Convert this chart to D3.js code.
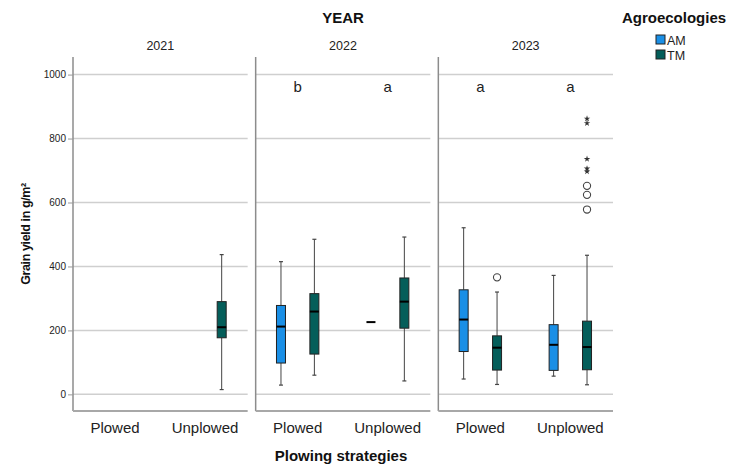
<!DOCTYPE html>
<html>
<head>
<meta charset="utf-8">
<script src="https://cdn.jsdelivr.net/npm/d3@7"></script>
<style>
  html, body { margin: 0; padding: 0; background: #fff; }
  svg { display: block; font-family: "Liberation Sans", Arial, sans-serif; }
</style>
</head>
<body>
<svg id="chart" width="730" height="464"></svg>
<script>
// Panels, categories and groups
const years = ["2021", "2022", "2023"];
const strategies = ["Plowed", "Unplowed"];
const groups = ["AM", "TM"];
const groupColors = ["#1a8fe6", "#045e5a"];
const yTicks = [0, 200, 400, 600, 800, 1000];

// Box summaries: year, strategy, group, lower whisker, Q1, median, Q3, upper whisker
const boxYear     = ["2021", "2022", "2022", "2022", "2022", "2023", "2023", "2023", "2023"];
const boxStrategy = ["Unplowed", "Plowed", "Plowed", "Unplowed", "Unplowed", "Plowed", "Plowed", "Unplowed", "Unplowed"];
const boxGroup    = ["TM", "AM", "TM", "AM", "TM", "AM", "TM", "AM", "TM"];
const boxMin      = [15, 29, 60, 226, 42, 48, 31, 57, 30];
const boxQ1       = [177, 98, 126, 226, 207, 134, 76, 75, 77];
const boxMedian   = [210, 212, 259, 226, 290, 234, 146, 155, 148];
const boxQ3       = [290, 278, 315, 226, 364, 327, 183, 218, 229];
const boxMax      = [437, 415, 485, 226, 492, 521, 320, 372, 435];

// Outliers (circle) and extreme values (star)
const outYear     = ["2023", "2023", "2023", "2023", "2023", "2023", "2023", "2023", "2023"];
const outStrategy = ["Plowed", "Unplowed", "Unplowed", "Unplowed", "Unplowed", "Unplowed", "Unplowed", "Unplowed", "Unplowed"];
const outGroup    = ["TM", "TM", "TM", "TM", "TM", "TM", "TM", "TM", "TM"];
const outValue    = [366, 578, 624, 652, 697, 706, 736, 848, 862];
const outKind     = ["circle", "circle", "circle", "circle", "star", "star", "star", "star", "star"];

// Significance letters
const letterYear     = ["2022", "2022", "2023", "2023"];
const letterStrategy = ["Plowed", "Unplowed", "Plowed", "Unplowed"];
const letterText     = ["b", "a", "a", "a"];
const letterValue    = [960, 960, 960, 960];

const svg = d3.select("#chart");

const panelGap = 8;
const yearScale = d3.scaleBand().domain(years).range([73, 621]);
const panelW = yearScale.bandwidth() - panelGap;
const panelTop = 57, panelBottom = 411;
const y = d3.scaleLinear().domain([-52, 1055]).range([panelBottom, panelTop]);
const xCat = d3.scalePoint().domain(strategies).range([0, 174]).padding(0.467);
const xGrp = d3.scalePoint().domain(groups).range([-16.7, 16.7]);
const color = d3.scaleOrdinal().domain(groups).range(groupColors);
const cx = (yr, st, gr) => yearScale(yr) + xCat(st) + (gr ? xGrp(gr) : 0);

// Panels: gridlines and frames
years.forEach(yr => {
  const x0 = yearScale(yr);
  const g = svg.append("g");
  g.selectAll("line.grid").data(yTicks).join("line")
    .attr("x1", x0).attr("x2", x0 + panelW)
    .attr("y1", d => y(d)).attr("y2", d => y(d))
    .attr("stroke", "#cfcfcf").attr("stroke-width", 1.5);
  g.append("line").attr("x1", x0).attr("x2", x0).attr("y1", panelTop).attr("y2", panelBottom)
    .attr("stroke", "#8c8c8c").attr("stroke-width", 1.5);
  g.append("line").attr("x1", x0).attr("x2", x0 + panelW).attr("y1", panelBottom).attr("y2", panelBottom)
    .attr("stroke", "#a8a8a8").attr("stroke-width", 2);
  g.append("text").attr("x", x0 + panelW / 2).attr("y", 50)
    .attr("text-anchor", "middle").attr("font-size", 12.5).attr("fill", "#222").text(yr);
  strategies.forEach(st => {
    g.append("text").attr("x", cx(yr, st)).attr("y", 433)
      .attr("text-anchor", "middle").attr("font-size", 15).attr("fill", "#222").text(st);
  });
});

// Y axis ticks on the left panel
const yAxis = d3.axisLeft(y).tickValues(yTicks).tickFormat(d3.format("d")).tickSize(5).tickPadding(2);
const ax = svg.append("g").attr("transform", "translate(73,0)").call(yAxis);
ax.select(".domain").remove();
ax.selectAll(".tick line").attr("stroke", "#999");
ax.selectAll(".tick text").attr("font-size", 10).attr("fill", "#222")
  .attr("font-family", "\"Liberation Sans\", Arial, sans-serif");

// Titles
svg.append("text").attr("x", 343).attr("y", 23).attr("text-anchor", "middle")
  .attr("font-size", 15).attr("font-weight", "bold").attr("fill", "#111").text("YEAR");
svg.append("text").attr("x", 341).attr("y", 461).attr("text-anchor", "middle")
  .attr("font-size", 15).attr("font-weight", "bold").attr("fill", "#111").text("Plowing strategies");
svg.append("text").attr("transform", "translate(30,234) rotate(-90)").attr("text-anchor", "middle")
  .attr("font-size", 12.5).attr("letter-spacing", -0.4).attr("font-weight", "bold").attr("fill", "#111")
  .text("Grain yield in g/m²");

// Boxes
const boxes = boxYear.map((yr, i) => ({
  yr, st: boxStrategy[i], gr: boxGroup[i],
  min: boxMin[i], q1: boxQ1[i], med: boxMedian[i], q3: boxQ3[i], max: boxMax[i]
}));
const bw = 9, cap = 4;
const bg = svg.append("g");
boxes.forEach(b => {
  const c = cx(b.yr, b.st, b.gr);
  if (b.max > b.q3) {
    bg.append("line").attr("x1", c).attr("x2", c).attr("y1", y(b.max)).attr("y2", y(b.q3))
      .attr("stroke", "#444").attr("stroke-width", 1);
    bg.append("line").attr("x1", c - cap / 2).attr("x2", c + cap / 2).attr("y1", y(b.max)).attr("y2", y(b.max))
      .attr("stroke", "#444").attr("stroke-width", 1.2);
  }
  if (b.min < b.q1) {
    bg.append("line").attr("x1", c).attr("x2", c).attr("y1", y(b.q1)).attr("y2", y(b.min))
      .attr("stroke", "#444").attr("stroke-width", 1);
    bg.append("line").attr("x1", c - cap / 2).attr("x2", c + cap / 2).attr("y1", y(b.min)).attr("y2", y(b.min))
      .attr("stroke", "#444").attr("stroke-width", 1.2);
  }
  if (b.q3 > b.q1) {
    bg.append("rect").attr("x", c - bw / 2).attr("y", y(b.q3)).attr("width", bw)
      .attr("height", y(b.q1) - y(b.q3)).attr("fill", color(b.gr))
      .attr("stroke", "#222").attr("stroke-width", 1);
  }
  bg.append("line").attr("x1", c - bw / 2).attr("x2", c + bw / 2)
    .attr("y1", y(b.med)).attr("y2", y(b.med)).attr("stroke", "#000").attr("stroke-width", 2);
});

// Outliers
const star = d3.symbol().type(d3.symbolStar).size(13);
outValue.forEach((v, i) => {
  const c = cx(outYear[i], outStrategy[i], outGroup[i]);
  if (outKind[i] === "circle") {
    svg.append("circle").attr("cx", c).attr("cy", y(v)).attr("r", 3.6)
      .attr("fill", "none").attr("stroke", "#444").attr("stroke-width", 1.1);
  } else {
    svg.append("path").attr("d", star).attr("transform", `translate(${c},${y(v)})`)
      .attr("fill", "#333");
  }
});

// Letters
letterText.forEach((t, i) => {
  svg.append("text").attr("x", cx(letterYear[i], letterStrategy[i])).attr("y", y(letterValue[i]) + 5)
    .attr("text-anchor", "middle").attr("font-size", 15).attr("fill", "#222").text(t);
});

// Legend
const lg = svg.append("g");
lg.append("text").attr("x", 674).attr("y", 23).attr("text-anchor", "middle")
  .attr("font-size", 15).attr("font-weight", "bold").attr("fill", "#111").text("Agroecologies");
groups.forEach((gr, i) => {
  lg.append("rect").attr("x", 656).attr("y", 35 + i * 15).attr("width", 9).attr("height", 9)
    .attr("fill", color(gr)).attr("stroke", "#222").attr("stroke-width", 1);
  lg.append("text").attr("x", 667).attr("y", 44.5 + i * 15)
    .attr("font-size", 12.5).attr("fill", "#222").text(gr);
});
</script>
</body>
</html>
